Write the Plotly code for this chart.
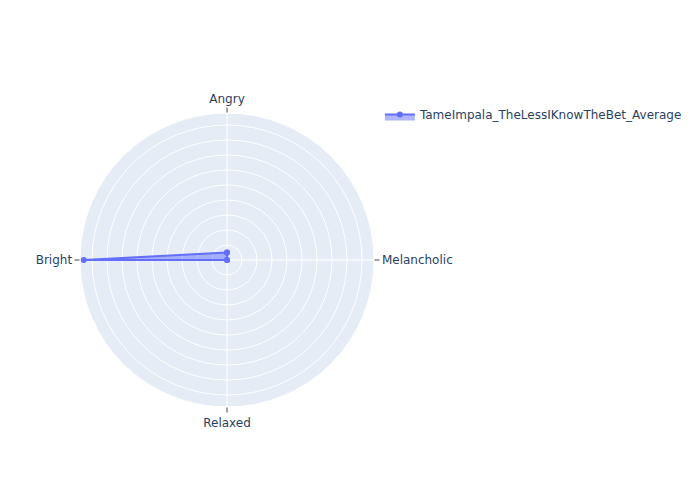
import plotly.graph_objects as go

categories = ["Angry", "Melancholic", "Relaxed", "Bright"]
values = [0.05, 0.0, 0.0, 0.955]
series_name = "TameImpala_TheLessIKnowTheBet_Average"

r = values + values[:1]
theta = categories + categories[:1]

fig = go.Figure()
fig.add_trace(go.Scatterpolar(
    r=r, theta=theta, fill="toself", name=series_name,
    mode="lines+markers", showlegend=True,
))
fig.update_layout(
    width=700, height=500,
    font=dict(family="DejaVu Sans"),
    polar=dict(
        angularaxis=dict(rotation=90, direction="clockwise", ticks="outside"),
        radialaxis=dict(showticklabels=False, ticks="", showline=False),
    ),
    showlegend=True,
)
fig.write_html("out.html")
